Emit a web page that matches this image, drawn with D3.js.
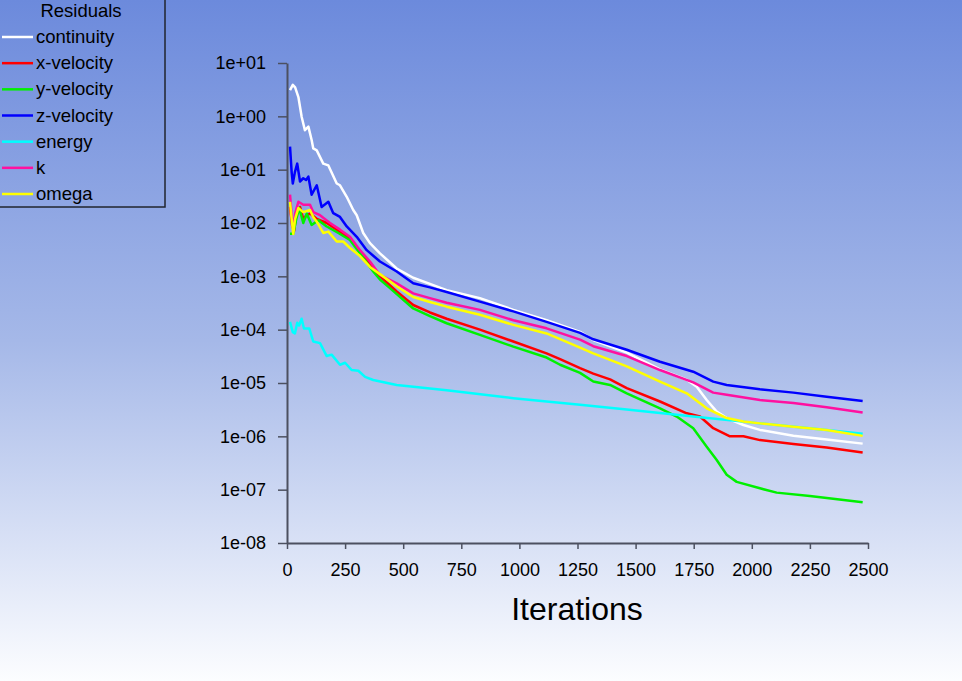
<!DOCTYPE html>
<html>
<head>
<meta charset="utf-8">
<script src="https://cdn.jsdelivr.net/npm/d3@7"></script>
<style>
  html, body { margin: 0; padding: 0; overflow: hidden; }
  svg { display: block; font-family: "Liberation Sans", Arial, sans-serif; }
</style>
</head>
<body>
<script>
var width = 962;
var height = 681;

// residual histories, [iteration, residual]
var continuity = [[13,3.1],[25,3.9],[35,3.5],[49,2.3],[63,0.98],[77,0.55],[92,0.64],[106,0.36],[113,0.25],[128,0.23],[156,0.13],[178,0.12],[214,0.055],[228,0.051],[257,0.031],[285,0.0175],[300,0.014],[328,0.0065],[357,0.0042],[400,0.0027],[472,0.0014],[543,0.00094],[615,7.2e-4],[687,5.5e-4],[830,3.9e-4],[974,2.35e-4],[1117,1.5e-4],[1261,9.1e-5],[1318,6.4e-5],[1462,3.7e-5],[1605,1.8e-5],[1720,1.15e-5],[1763,8.5e-6],[1806,4.8e-6],[1849,2.9e-6],[1892,2.2e-6],[1964,1.63e-6],[2035,1.32e-6],[2179,1.03e-6],[2322,8.7e-7],[2477,7.3e-7]];
var xVelocity = [[13,0.02],[22,0.009],[30,0.007],[40,0.014],[56,0.02],[70,0.012],[85,0.014],[99,0.015],[128,0.012],[171,0.01],[214,0.0075],[271,0.0051],[314,0.0029],[371,0.0014],[400,0.001],[472,5.2e-4],[543,2.9e-4],[615,2.1e-4],[687,1.6e-4],[830,1e-4],[974,6e-5],[1117,3.6e-5],[1175,2.8e-5],[1261,1.9e-5],[1318,1.5e-5],[1390,1.17e-5],[1462,8e-6],[1605,4.5e-6],[1720,2.7e-6],[1777,2.35e-6],[1834,1.42e-6],[1906,1e-6],[1964,1e-6],[2035,8.5e-7],[2179,7.2e-7],[2322,6.2e-7],[2477,5e-7]];
var yVelocity = [[13,0.0063],[27,0.0063],[40,0.012],[53,0.019],[70,0.01],[85,0.015],[106,0.0092],[135,0.0113],[171,0.0086],[221,0.0065],[271,0.0048],[314,0.0027],[371,0.00123],[400,8.7e-4],[443,6e-4],[543,2.5e-4],[615,1.8e-4],[687,1.32e-4],[830,8e-5],[974,4.8e-5],[1117,3e-5],[1175,2.2e-5],[1261,1.55e-5],[1318,1.07e-5],[1390,9.2e-6],[1462,6.4e-6],[1605,3.35e-6],[1677,2.35e-6],[1748,1.42e-6],[1806,6.4e-7],[1849,3.6e-7],[1892,1.9e-7],[1935,1.4e-7],[2035,1.06e-7],[2107,8.8e-8],[2250,7.6e-8],[2477,5.8e-8]];
var zVelocity = [[13,0.27],[20,0.09],[25,0.055],[34,0.09],[44,0.13],[56,0.06],[70,0.069],[82,0.064],[92,0.074],[106,0.034],[128,0.051],[149,0.02],[178,0.025],[199,0.0153],[228,0.013],[257,0.0086],[300,0.0055],[343,0.0031],[400,0.0019],[472,0.00123],[543,7.4e-4],[615,6.2e-4],[687,5.1e-4],[830,3.35e-4],[974,2.2e-4],[1117,1.4e-4],[1261,8.7e-5],[1318,6.6e-5],[1462,4.2e-5],[1605,2.5e-5],[1748,1.63e-5],[1834,1.06e-5],[1892,9.2e-6],[2035,7.6e-6],[2179,6.6e-6],[2322,5.5e-6],[2477,4.6e-6]];
var energy = [[13,1.4e-4],[25,9e-5],[34,8.5e-5],[44,1.35e-4],[52,1.2e-4],[63,1.6e-4],[73,1.05e-4],[96,1.05e-4],[113,6e-5],[142,5.6e-5],[171,3.2e-5],[192,3.4e-5],[228,2.2e-5],[250,2.4e-5],[278,1.75e-5],[307,1.7e-5],[336,1.3e-5],[371,1.14e-5],[472,9.2e-6],[687,7.3e-6],[974,5.2e-6],[1261,3.9e-6],[1462,3.2e-6],[1748,2.35e-6],[2035,1.75e-6],[2322,1.32e-6],[2477,1.12e-6]];
var kTurb = [[13,0.034],[22,0.011],[27,0.008],[35,0.015],[49,0.025],[70,0.022],[99,0.022],[113,0.016],[142,0.014],[185,0.01],[228,0.0075],[271,0.0055],[314,0.0031],[357,0.0019],[400,0.00106],[472,7.4e-4],[543,4.8e-4],[615,3.9e-4],[687,3.2e-4],[830,2.35e-4],[974,1.5e-4],[1117,1.06e-4],[1261,6.5e-5],[1318,4.9e-5],[1462,3.2e-5],[1605,1.75e-5],[1748,1.03e-5],[1834,6.6e-6],[1892,6e-6],[2035,4.8e-6],[2179,4.2e-6],[2322,3.5e-6],[2477,2.8e-6]];
var omega = [[13,0.025],[20,0.012],[27,0.0062],[35,0.012],[49,0.019],[70,0.016],[99,0.0175],[113,0.013],[128,0.0106],[156,0.0065],[178,0.0069],[214,0.0045],[242,0.0045],[271,0.0034],[314,0.0024],[357,0.0015],[400,0.0011],[472,6.5e-4],[543,4.1e-4],[615,3.3e-4],[687,2.7e-4],[830,1.9e-4],[974,1.23e-4],[1117,8.5e-5],[1261,4.6e-5],[1318,3.6e-5],[1462,2.05e-5],[1605,1.06e-5],[1720,6.4e-6],[1806,3.35e-6],[1892,2.2e-6],[1964,1.9e-6],[2035,1.75e-6],[2179,1.52e-6],[2322,1.32e-6],[2477,1.02e-6]];

var seriesNames = ["continuity","x-velocity","y-velocity","z-velocity","energy","k","omega"];
var seriesColors = ["#ffffff","#ff0000","#00f000","#0000ff","#00ffff","#ff10a0","#ffff00"];
var seriesData = [continuity, xVelocity, yVelocity, zVelocity, energy, kTurb, omega];

var xTicks = [0,250,500,750,1000,1250,1500,1750,2000,2250,2500];
var yExponents = [1,0,-1,-2,-3,-4,-5,-6,-7,-8];

var svg = d3.select("body").append("svg").attr("width",width).attr("height",height);

// background gradient
var grad = svg.append("defs").append("linearGradient")
  .attr("id","bg").attr("x1",0).attr("y1",0).attr("x2",0).attr("y2",1);
grad.append("stop").attr("offset","0%").attr("stop-color","#6c8adc");
grad.append("stop").attr("offset","50%").attr("stop-color","#a5b8e8");
grad.append("stop").attr("offset","100%").attr("stop-color","#fcfdff");
svg.append("rect").attr("width",width).attr("height",height).attr("fill","url(#bg)");

var x = d3.scaleLinear().domain([0,2500]).range([287,868]);
var y = d3.scaleLog().domain([1e-8,10]).range([543,63]);

var axisColor = "#4c5060";

var fmtExp = function(e){
  var s = Math.abs(e) < 10 ? "0" + Math.abs(e) : "" + Math.abs(e);
  return "1e" + (e >= 0 ? "+" : "-") + s;
};

// y axis minor ticks: four per decade below each major
var yMinor = [];
yExponents.slice(0,-1).forEach(function(e){
  for (var j = 1; j <= 4; j++) yMinor.push(Math.pow(10, e - j/8));
});

var yAxisG = svg.append("g").attr("transform","translate(" + x(0) + ",0)");
yAxisG.call(d3.axisLeft(y).tickValues(yMinor).tickSize(5).tickFormat(""));
yAxisG.call(d3.axisLeft(y)
  .tickValues(yExponents.map(function(e){ return Math.pow(10,e); }))
  .tickSize(9).tickSizeOuter(0).tickPadding(12)
  .tickFormat(function(d){ return fmtExp(Math.round(Math.log10(d))); }));

// x axis
var xMinor = d3.range(0,2501,50);
var xAxisG = svg.append("g").attr("transform","translate(0," + y(1e-8) + ")");
xAxisG.call(d3.axisBottom(x).tickValues(xMinor).tickSize(3).tickFormat(""));
xAxisG.call(d3.axisBottom(x).tickValues(xTicks).tickSize(6).tickSizeOuter(0).tickPadding(14).tickFormat(d3.format("d")));

svg.selectAll(".domain").attr("stroke",axisColor).attr("stroke-width",2);
svg.selectAll(".tick line").attr("stroke",axisColor).attr("stroke-width",1.5);
svg.selectAll(".tick text").attr("fill","#000").style("font-size","18px")
  .style("font-family","'Liberation Sans', Arial, sans-serif");

svg.append("text")
  .attr("x",577).attr("y",620)
  .attr("text-anchor","middle")
  .style("font-size","32px")
  .text("Iterations");

// residual lines
var line = d3.line()
  .x(function(d){ return x(d[0]); })
  .y(function(d){ return y(d[1]); });

seriesData.forEach(function(data, i){
  svg.append("path")
    .datum(data)
    .attr("fill","none")
    .attr("stroke",seriesColors[i])
    .attr("stroke-width",2.5)
    .attr("stroke-linejoin","round")
    .attr("d",line);
});

// legend
var legend = svg.append("g");
legend.append("rect")
  .attr("x",-2).attr("y",-2).attr("width",167).attr("height",209)
  .attr("fill","none").attr("stroke","#20242e").attr("stroke-width",1.5);
legend.append("text")
  .attr("x",81).attr("y",17)
  .attr("text-anchor","middle")
  .style("font-size","18.5px")
  .text("Residuals");

var rowY = d3.scaleLinear().domain([0,6]).range([37,194]);
seriesNames.forEach(function(name, i){
  legend.append("line")
    .attr("x1",2).attr("x2",33)
    .attr("y1",rowY(i)).attr("y2",rowY(i))
    .attr("stroke",seriesColors[i]).attr("stroke-width",2.5);
  legend.append("text")
    .attr("x",36).attr("y",rowY(i) + 6)
    .style("font-size","18.5px")
    .text(name);
});
</script>
</body>
</html>
